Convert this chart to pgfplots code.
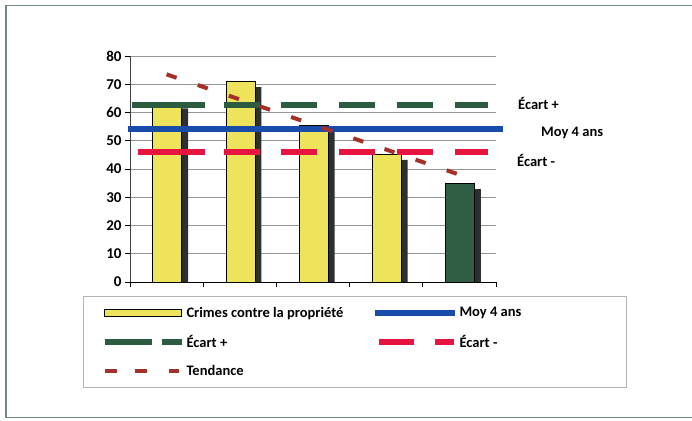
\documentclass[border=0pt]{standalone}
\usepackage{pgfplots}
\pgfplotsset{compat=1.18}
\usepackage{pgfplotstable}
\usepackage{fontspec}
\setmainfont{Carlito}

\definecolor{barY}{RGB}{238,228,92}
\definecolor{barG}{RGB}{47,94,69}
\definecolor{shad}{RGB}{45,48,48}
\definecolor{lineB}{RGB}{24,76,168}
\definecolor{lineG}{RGB}{44,92,64}
\definecolor{lineR}{RGB}{232,20,64}
\definecolor{trendC}{RGB}{164,48,40}
\definecolor{frameC}{RGB}{108,140,124}
\definecolor{gridC}{RGB}{150,150,150}

% bars: x = category centre, v = value
\pgfplotstableread{
x   v
0.5 63.5
1.5 71
2.5 55.5
3.5 45.2
}\crimes
\pgfplotstableread{
x   v
4.5 34.8
}\last

\begin{document}
\begin{tikzpicture}[x=1pt,y=1pt]
\path[use as bounding box] (0,0) rectangle (692,420);
\draw[frameC, line width=1.5pt] (6,2.5) rectangle (720,414.5);
\begin{axis}[
    at={(130pt,138pt)}, anchor=south west,
    width=366pt, height=226pt, scale only axis,
    xmin=0, xmax=5, ymin=0, ymax=80,
    axis x line=bottom, axis y line=left,
    axis line style={-, line width=1pt},
    x axis line style={black},
    y axis line style={black!75},
    xtick={0,1,2,3,4,5}, xticklabels={},
    ytick={0,10,...,80},
    tick align=outside, major tick length=5pt,
    tick style={line width=0.8pt, black},
    ymajorgrids, grid style={gridC, line width=0.8pt},
    yticklabel style={font=\fontsize{15}{15}\selectfont\bfseries},
    /pgf/number format/assume math mode=true,
    clip=false,
    legend columns=2, legend cell align=left,
    legend style={at={(-0.128,-0.062)}, anchor=north west,
        draw=gray!60, line width=0.8pt,
        font=\fontsize{14.5}{14.5}\selectfont\bfseries,
        inner xsep=18pt, inner ysep=8.5pt, row sep=12.5pt,
        /tikz/every even column/.append style={column sep=26pt}},
]
% shadows
\addplot[ybar, bar width=0.396, bar shift=0.096, fill=shad, draw=none, forget plot]
    table[x=x, y expr=\thisrow{v}-2] {\crimes};
\addplot[ybar, bar width=0.396, bar shift=0.096, fill=shad, draw=none, forget plot]
    table[x=x, y expr=\thisrow{v}-2] {\last};
% bars
\addplot[ybar, bar width=0.396, bar shift=0.012, fill=barY, draw=black, line width=1pt,
    legend image code/.code={\draw[solid, fill=barY, draw=black, line width=1pt] (0pt,-3.5pt) rectangle (77pt,3.5pt);}]
    table[x=x, y=v] {\crimes};
\addplot[ybar, bar width=0.396, bar shift=0.012, fill=barG, draw=black, line width=1pt, forget plot]
    table[x=x, y=v] {\last};
% Moy 4 ans
\addplot[lineB, line width=6pt,
    legend image code/.code={\draw[solid, lineB, line width=6pt] (0pt,0pt) -- (80pt,0pt);}]
    coordinates {(-0.03,54) (5.1,54)};
% Ecart +
\addplot[lineG, line width=6pt, dash pattern=on 36pt off 21.7pt,
    legend image code/.code={\draw[solid, lineG, line width=6pt] (0pt,0pt) -- (47pt,0pt) (57pt,0pt) -- (77pt,0pt);}]
    coordinates {(1.28,62.6) (4.89,62.6)};
\addplot[lineG, line width=6pt, forget plot] coordinates {(0.027,62.6) (1.025,62.6)};
% Ecart -
\addplot[lineR, line width=6pt, dash pattern=on 36pt off 21.7pt,
    legend image code/.code={\draw[solid, lineR, line width=6pt] (4pt,0pt) -- (39pt,0pt) (60pt,0pt) -- (79pt,0pt);}]
    coordinates {(1.28,46.1) (4.89,46.1)};
\addplot[lineR, line width=6pt, forget plot] coordinates {(0.11,46.1) (1.025,46.1)};
% Tendance
\addplot[trendC, line width=4pt, dash pattern=on 10.6pt off 22.3pt,
    legend image code/.code={\draw[solid, trendC, line width=4pt] (0pt,0pt) -- (12pt,0pt) (30pt,0pt) -- (42pt,0pt) (64pt,0pt) -- (74pt,0pt);}]
    coordinates {(0.5,73.5) (4.5,38)};
\legend{Crimes contre la propriété, Moy 4 ans\hspace*{85pt}, Écart +, Écart -, Tendance}
\end{axis}
\begin{scope}[every node/.style={anchor=west, inner sep=0pt, font=\fontsize{14.5}{14.5}\selectfont\bfseries}]
\node at (518,317) {Écart +};
\node at (541,287) {Moy 4 ans};
\node at (517,260) {Écart -};
\end{scope}
\end{tikzpicture}
\end{document}
